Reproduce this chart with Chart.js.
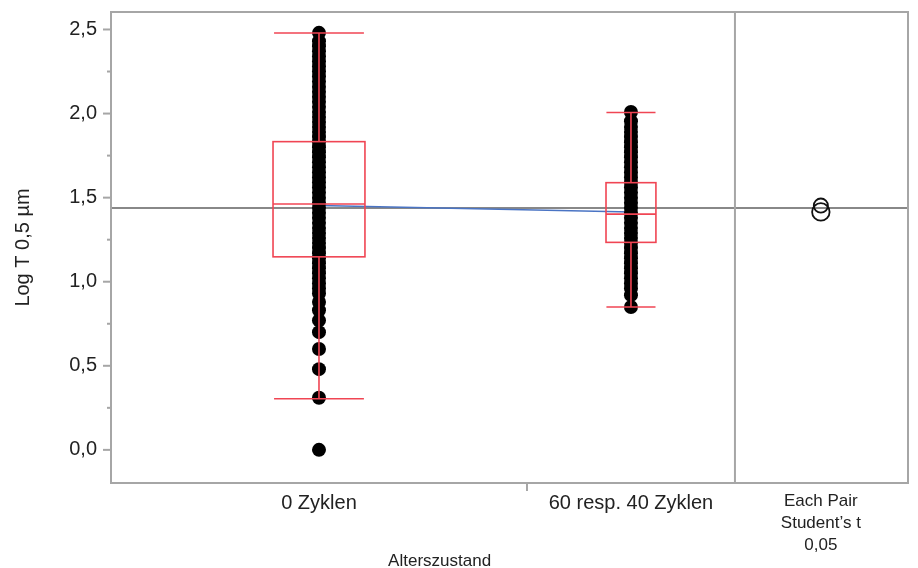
<!DOCTYPE html>
<html>
<head>
<meta charset="utf-8">
<script src="https://cdn.jsdelivr.net/npm/chart.js@4.4.1/dist/chart.umd.min.js"></script>
<style>
  body { margin: 0; background: #fff; }
  canvas { display: block; }
</style>
</head>
<body>
<canvas id="canvasOneway" width="918" height="568"></canvas>
<script>
// categories and their relative widths (JMP draws x proportional to n)
var groups = ["0 Zyklen", "60 resp. 40 Zyklen"];
var groupWidths = [2, 1];

var pointsZero = [2.48, 2.43, 2.40, 2.37, 2.34, 2.31, 2.28, 2.25, 2.22, 2.19, 2.16, 2.13,
    2.10, 2.07, 2.04, 2.01, 1.98, 1.95, 1.92, 1.89, 1.86, 1.83, 1.80, 1.77, 1.74, 1.71,
    1.68, 1.65, 1.62, 1.59, 1.56, 1.53, 1.50, 1.47, 1.44, 1.41, 1.38, 1.35, 1.32, 1.29,
    1.26, 1.23, 1.20, 1.17, 1.14, 1.11, 1.08, 1.05, 1.02, 0.99, 0.96, 0.93, 0.88, 0.83,
    0.77, 0.70, 0.60, 0.48, 0.31, 0.00];
var pointsSixty = [2.01, 1.955, 1.92, 1.89, 1.86, 1.83, 1.80, 1.77, 1.74, 1.71, 1.68,
    1.65, 1.62, 1.59, 1.56, 1.53, 1.50, 1.47, 1.44, 1.41, 1.38, 1.35, 1.32, 1.29, 1.26,
    1.23, 1.20, 1.17, 1.14, 1.11, 1.08, 1.05, 1.02, 0.99, 0.96, 0.92, 0.85];

// quantile box stats per group
var q1 = [1.148, 1.234];
var medians = [1.462, 1.402];
var q3 = [1.833, 1.589];
var whiskLow = [0.304, 0.850];
var whiskHigh = [2.479, 2.006];

// means, grand mean, comparison circle radii (in y units)
var means = [1.453, 1.415];
var grandMean = 1.438;
var circleRadius = [0.042, 0.052];

// axis ticks
var yMajor = [0, 0.5, 1.0, 1.5, 2.0, 2.5];
var yMinor = [0.25, 0.75, 1.25, 1.75, 2.25];
var panelLabel = ["Each Pair", "Student\u2019s t", "0,05"];
var xTitle = "Alterszustand";
var yTitle = "Log T 0,5 \u00b5m";

var go = {};

// layout derived from the widths
go.centers = [];
go.bounds = [];
var acc = 0;
for (var i = 0; i < groupWidths.length; i++) {
    go.centers.push(acc + groupWidths[i] / 2);
    acc += groupWidths[i];
    go.bounds.push(acc);
}
go.panelStart = acc;
go.panelWidth = 0.832;
go.panelCenter = go.panelStart + 0.413;
go.boxHalf = [0.221, 0.120];
go.capHalf = [0.216, 0.118];
go.red = "#f04553";
go.gray = "#a6a6a6";
go.font = "'Liberation Sans', Arial, sans-serif";

function toPts(vals, xpos) {
    var out = [];
    for (var i = 0; i < vals.length; i++) out.push({ x: xpos, y: vals[i] });
    return out;
}

function line(ctx, x1, y1, x2, y2) {
    ctx.beginPath();
    ctx.moveTo(x1, y1);
    ctx.lineTo(x2, y2);
    ctx.stroke();
}

var overlay = {
    id: "overlay",
    beforeDatasetsDraw: function (chart) {
        var ctx = chart.ctx, a = chart.chartArea, x = chart.scales.x, y = chart.scales.y;
        ctx.save();
        // grand mean
        ctx.strokeStyle = "#888888";
        ctx.lineWidth = 2;
        var gy = y.getPixelForValue(grandMean);
        line(ctx, a.left, gy, a.right, gy);
        // divider before comparison panel
        ctx.strokeStyle = go.gray;
        var dx = x.getPixelForValue(go.panelStart);
        line(ctx, dx, a.top, dx, a.bottom);
        ctx.restore();
    },
    afterDatasetsDraw: function (chart) {
        var ctx = chart.ctx, x = chart.scales.x, y = chart.scales.y;
        ctx.save();
        ctx.strokeStyle = go.red;
        ctx.lineWidth = 1.6;
        for (var i = 0; i < groups.length; i++) {
            var cx = x.getPixelForValue(go.centers[i]);
            var bl = x.getPixelForValue(go.centers[i] - go.boxHalf[i]);
            var br = x.getPixelForValue(go.centers[i] + go.boxHalf[i]);
            var cl = x.getPixelForValue(go.centers[i] - go.capHalf[i]);
            var cr = x.getPixelForValue(go.centers[i] + go.capHalf[i]);
            var yq1 = y.getPixelForValue(q1[i]);
            var yq3 = y.getPixelForValue(q3[i]);
            var ym = y.getPixelForValue(medians[i]);
            var ylo = y.getPixelForValue(whiskLow[i]);
            var yhi = y.getPixelForValue(whiskHigh[i]);
            ctx.strokeRect(bl, yq3, br - bl, yq1 - yq3);
            line(ctx, bl, ym, br, ym);
            line(ctx, cx, yq3, cx, yhi);
            line(ctx, cx, yq1, cx, ylo);
            line(ctx, cl, yhi, cr, yhi);
            line(ctx, cl, ylo, cr, ylo);
        }
        ctx.restore();
    },
    afterDraw: function (chart) {
        var ctx = chart.ctx, a = chart.chartArea, x = chart.scales.x, y = chart.scales.y;
        ctx.save();
        ctx.strokeStyle = go.gray;
        ctx.lineWidth = 2;
        ctx.strokeRect(a.left, a.top, a.right - a.left, a.bottom - a.top);
        // tick marks
        for (var i = 0; i < yMajor.length; i++) {
            var py = y.getPixelForValue(yMajor[i]);
            line(ctx, a.left - 8, py, a.left, py);
        }
        for (var j = 0; j < yMinor.length; j++) {
            var my = y.getPixelForValue(yMinor[j]);
            line(ctx, a.left - 4, my, a.left, my);
        }
        for (var k = 0; k < go.bounds.length - 1; k++) {
            var bx = x.getPixelForValue(go.bounds[k]);
            line(ctx, bx, a.bottom, bx, a.bottom + 8);
        }
        // x axis title
        ctx.fillStyle = "#222";
        ctx.font = "17px " + go.font;
        ctx.textAlign = "center";
        ctx.textBaseline = "middle";
        ctx.fillText(xTitle, x.getPixelForValue(1.58), 561);
        ctx.restore();
    }
};

function main() {
    var config = {
        data: {
            datasets: [
                {
                    type: "line",
                    data: means.map(function (m, i) { return { x: go.centers[i], y: m }; }),
                    borderColor: "#4a74c4",
                    borderWidth: 1.5,
                    pointRadius: 0,
                    order: 3
                },
                {
                    type: "scatter",
                    data: toPts(pointsZero, go.centers[0]).concat(toPts(pointsSixty, go.centers[1])),
                    backgroundColor: "#000",
                    borderWidth: 0,
                    pointRadius: 7,
                    order: 2
                },
                {
                    type: "scatter",
                    data: toPts(means, go.panelCenter),
                    backgroundColor: "rgba(0,0,0,0)",
                    borderColor: "#111",
                    borderWidth: 1.8,
                    pointRadius: function (c) {
                        var ys = c.chart.scales.y;
                        if (!ys) return 7;
                        return ys.getPixelForValue(0) - ys.getPixelForValue(circleRadius[c.dataIndex]);
                    },
                    order: 1
                }
            ]
        },
        options: {
            responsive: false,
            animation: false,
            layout: { padding: { top: 12, right: 10, left: 0, bottom: 0 } },
            plugins: { legend: { display: false }, tooltip: { enabled: false } },
            scales: {
                x: {
                    type: "linear",
                    min: 0,
                    max: go.panelStart + go.panelWidth,
                    grid: { display: false, drawTicks: false },
                    border: { display: false },
                    afterBuildTicks: function (scale) {
                        var t = [];
                        for (var i = 0; i < go.centers.length; i++) t.push({ value: go.centers[i] });
                        t.push({ value: go.panelCenter });
                        scale.ticks = t;
                    },
                    afterFit: function (scale) {
                        scale.height = 85;
                        scale.paddingLeft = 0;
                        scale.paddingRight = 0;
                    },
                    ticks: {
                        autoSkip: false,
                        maxRotation: 0,
                        padding: 8,
                        color: "#222",
                        font: function (c) {
                            if (c.tick && c.tick.value === go.panelCenter)
                                return { family: go.font, size: 17, lineHeight: 1.27 };
                            return { family: go.font, size: 20 };
                        },
                        callback: function (value) {
                            for (var i = 0; i < go.centers.length; i++)
                                if (value === go.centers[i]) return groups[i];
                            if (value === go.panelCenter) return panelLabel;
                            return "";
                        }
                    }
                },
                y: {
                    type: "linear",
                    min: -0.197,
                    max: 2.604,
                    grid: { display: false, drawTicks: false },
                    border: { display: false },
                    afterBuildTicks: function (scale) {
                        scale.ticks = yMajor.map(function (v) { return { value: v }; });
                    },
                    afterFit: function (scale) {
                        scale.width = 111;
                        scale.paddingTop = 0;
                        scale.paddingBottom = 0;
                    },
                    title: {
                        display: true,
                        text: yTitle,
                        color: "#222",
                        font: { family: go.font, size: 20 },
                        padding: { top: 11, bottom: 0 }
                    },
                    ticks: {
                        padding: 14,
                        color: "#222",
                        font: { family: go.font, size: 20 },
                        callback: function (v) { return v.toFixed(1).replace(".", ","); }
                    }
                }
            }
        },
        plugins: [overlay]
    };
    go.chart = new Chart(document.getElementById("canvasOneway").getContext("2d"), config);
}

main();
</script>
</body>
</html>
